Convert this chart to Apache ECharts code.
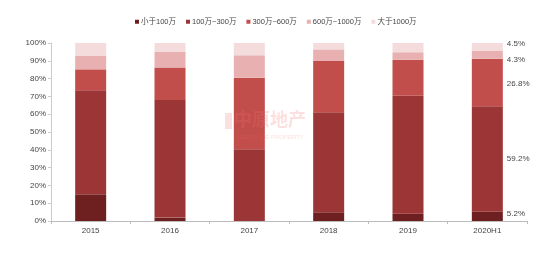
<!DOCTYPE html>
<html><head><meta charset="utf-8">
<script src="https://cdn.jsdelivr.net/npm/echarts@6/dist/echarts.min.js"></script>
<style>html,body{margin:0;padding:0;background:#fff}#c{width:554px;height:259px}</style>
</head><body><div id="c"></div>
<script>
const categories = ['2015','2016','2017','2018','2019','2020H1'];
const seriesNames = ['小于100万','100万~300万','300万~600万','600万~1000万','大于1000万'];
const lt100 = [15.0, 1.9, 0.0, 4.9, 4.1, 5.2];
const r100_300 = [58.4, 66.1, 40.3, 56.2, 66.3, 59.2];
const r300_600 = [11.8, 18.3, 40.2, 28.8, 20.2, 26.8];
const r600_1000 = [7.5, 8.7, 12.6, 6.5, 4.2, 4.3];
const gt1000 = [7.3, 5.0, 6.9, 3.6, 5.2, 4.5];
const yTicks = ['0%','10%','20%','30%','40%','50%','60%','70%','80%','90%','100%'];

const colors = ['#6e1f1f','#9c3535','#c24e4b','#e8b0b0','#f4dcdc'];
const values = [lt100, r100_300, r300_600, r600_1000, gt1000];
const labelOffsets = [[0,-3],[0,0],[0,1],[0,5],[0,-3]];

const chart = echarts.init(document.getElementById('c'));
chart.setOption({
  animation:false,
  color: colors,
  legend:{
    top:13, left:130,
    itemWidth:4, itemHeight:4, itemGap:10,
    icon:'rect',
    textStyle:{fontSize:7.5, color:'#444', fontFamily:'Liberation Sans, Noto Sans CJK SC', padding:[0,0,0,-3]},
    data: seriesNames
  },
  grid:{left:51, right:27, top:43, bottom:38},
  xAxis:{
    type:'category', data:categories,
    axisLine:{lineStyle:{color:'#bbb'}},
    axisTick:{show:true, length:3, lineStyle:{color:'#bbb'}},
    axisLabel:{fontSize:8, color:'#444', margin:6, fontFamily:'Liberation Sans'}
  },
  yAxis:{
    type:'value', min:0, max:100, interval:10,
    axisLine:{show:true, lineStyle:{color:'#ccc'}},
    axisTick:{show:true, length:3, lineStyle:{color:'#ccc'}},
    splitLine:{show:false},
    axisLabel:{fontSize:8, color:'#444', margin:5, fontFamily:'Liberation Sans', formatter:(v)=>yTicks[Math.round(v/10)]}
  },
  graphic:[
    {type:'rect', z:100, left:225, top:113, shape:{width:7, height:16}, style:{fill:'rgba(240,110,110,0.22)'}},
    {type:'text', z:100, left:234, top:110, style:{text:'中原地产', fontSize:18, fontWeight:'bold', fill:'rgba(240,110,110,0.22)', fontFamily:'Noto Sans CJK SC'}},
    {type:'text', z:100, left:236, top:134, style:{text:'CENTALINE PROPERTY', fontSize:6, fill:'rgba(240,110,110,0.22)', fontFamily:'Liberation Sans'}}
  ],
  series: values.map((arr,i)=>({
    name: seriesNames[i], type:'bar', stack:'s', barWidth:31,
    itemStyle:{color:colors[i]},
    data: arr.map((v,j)=> j===arr.length-1 ? {
      value:v,
      label:{show:true, position:'right', distance:4, offset:labelOffsets[i],
        formatter:(p)=>p.value.toFixed(1)+'%', fontSize:8, color:'#444', fontFamily:'Liberation Sans'}
    } : v)
  }))
});
</script></body></html>
